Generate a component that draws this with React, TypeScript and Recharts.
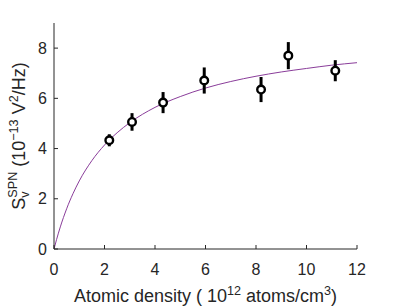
import React from "react";
import { ComposedChart, Line, Scatter, XAxis, YAxis, ErrorBar, Label } from "recharts";

const densityX = [2.19, 3.09, 4.32, 5.95, 8.2, 9.28, 11.14];
const noiseY = [4.33, 5.06, 5.83, 6.71, 6.35, 7.7, 7.1];
const noiseErr = [0.24, 0.35, 0.42, 0.52, 0.5, 0.54, 0.42];

const fitX = [0, 0.1, 0.25, 0.5, 0.75, 1, 1.5, 2, 2.5, 3, 4, 5, 6, 7, 8, 9, 10, 11, 12];
const fitY = [0, 0.37, 0.88, 1.6, 2.2, 2.71, 3.52, 4.14, 4.63, 5.03, 5.64, 6.07, 6.41, 6.67, 6.88, 7.05, 7.19, 7.32, 7.42];

const xTicks = [0, 2, 4, 6, 8, 10, 12];
const yTicks = [0, 2, 4, 6, 8];

const pts = densityX.map((x, i) => ({ x, y: noiseY[i], err: noiseErr[i] }));
const fit = fitX.map((x, i) => ({ x, y: fitY[i] }));

const FONT = "'Liberation Sans', Arial, Helvetica, sans-serif";
const AX = "#262626";
const TICK_FS = 16;
const LABEL_FS = 18;

const XTick = (props: any) => {
  const { x, y, payload } = props;
  return (
    <g>
      <line x1={x} x2={x} y1={y} y2={y - 4} stroke={AX} strokeWidth={1} />
      <text x={x} y={y + 26} textAnchor="middle" fontSize={TICK_FS} fontFamily={FONT} fill={AX}>
        {payload.value}
      </text>
    </g>
  );
};

const YTick = (props: any) => {
  const { x, y, payload } = props;
  return (
    <g>
      <line x1={x} x2={x + 4} y1={y} y2={y} stroke={AX} strokeWidth={1} />
      <text x={x - 7} y={y} dy="0.35em" textAnchor="end" fontSize={TICK_FS} fontFamily={FONT} fill={AX}>
        {payload.value}
      </text>
    </g>
  );
};

const Marker = (props: any) => {
  const { cx, cy } = props;
  return <circle cx={cx} cy={cy} r={3.8} fill="#fff" stroke="#000" strokeWidth={2.4} />;
};

const Empty = () => <g />;

const XLabel = (props: any) => {
  const vb = props.viewBox || {};
  const cx = vb.x + vb.width / 2;
  const sub = LABEL_FS * 0.7;
  return (
    <text x={cx} y={302} textAnchor="middle" fontSize={LABEL_FS} fontFamily={FONT} fill={AX}>
      <tspan>Atomic density ( 10</tspan>
      <tspan fontSize={sub} dy={-7}>12</tspan>
      <tspan dy={7}> atoms/cm</tspan>
      <tspan fontSize={sub} dy={-7}>3</tspan>
      <tspan dy={7}>)</tspan>
    </text>
  );
};

const YLabel = (props: any) => {
  const vb = props.viewBox || {};
  const cy = vb.y + vb.height / 2;
  const sub = LABEL_FS * 0.7;
  const bx = 25;
  return (
    <text
      x={bx}
      y={cy}
      transform={`rotate(-90 ${bx} ${cy})`}
      textAnchor="middle"
      fontSize={LABEL_FS}
      fontFamily={FONT}
      fill={AX}
    >
      <tspan>S</tspan>
      <tspan fontSize={sub} dy={4}>v</tspan>
      <tspan fontSize={sub} dx={-6.3} dy={-12}>SPN</tspan>
      <tspan dy={8}> (10</tspan>
      <tspan fontSize={sub} dy={-7}>{"\u221213"}</tspan>
      <tspan dy={7}> V</tspan>
      <tspan fontSize={sub} dy={-7}>2</tspan>
      <tspan dy={7}>/Hz)</tspan>
    </text>
  );
};

export default function App() {
  return (
    <div style={{ position: "absolute", left: 0, top: 0, width: 396, height: 306, background: "#fff" }}>
      <ComposedChart width={396} height={306} margin={{ top: 23, right: 39, bottom: 27, left: 24 }}>
        <XAxis
          type="number"
          dataKey="x"
          domain={[0, 12]}
          ticks={xTicks}
          height={30}
          tickSize={0}
          tickMargin={0}
          tick={<XTick />}
          axisLine={{ stroke: AX, strokeWidth: 1 }}
          tickLine={false}
          interval={0}
          allowDataOverflow
        >
          <Label content={<XLabel />} />
        </XAxis>
        <YAxis
          type="number"
          dataKey="y"
          domain={[0, 9]}
          ticks={yTicks}
          width={30}
          tickSize={0}
          tickMargin={0}
          tick={<YTick />}
          axisLine={{ stroke: AX, strokeWidth: 1 }}
          tickLine={false}
          interval={0}
          allowDataOverflow
        >
          <Label content={<YLabel />} />
        </YAxis>
        <Line
          data={fit}
          dataKey="y"
          type="monotone"
          stroke="#8a3d9a"
          strokeWidth={1}
          dot={false}
          activeDot={false}
          isAnimationActive={false}
        />
        <Scatter data={pts} dataKey="y" shape={<Empty />} isAnimationActive={false}>
          <ErrorBar dataKey="err" direction="y" width={0} stroke="#000" strokeWidth={3} isAnimationActive={false} />
        </Scatter>
        <Scatter data={pts} dataKey="y" shape={<Marker />} isAnimationActive={false} />
      </ComposedChart>
    </div>
  );
}
